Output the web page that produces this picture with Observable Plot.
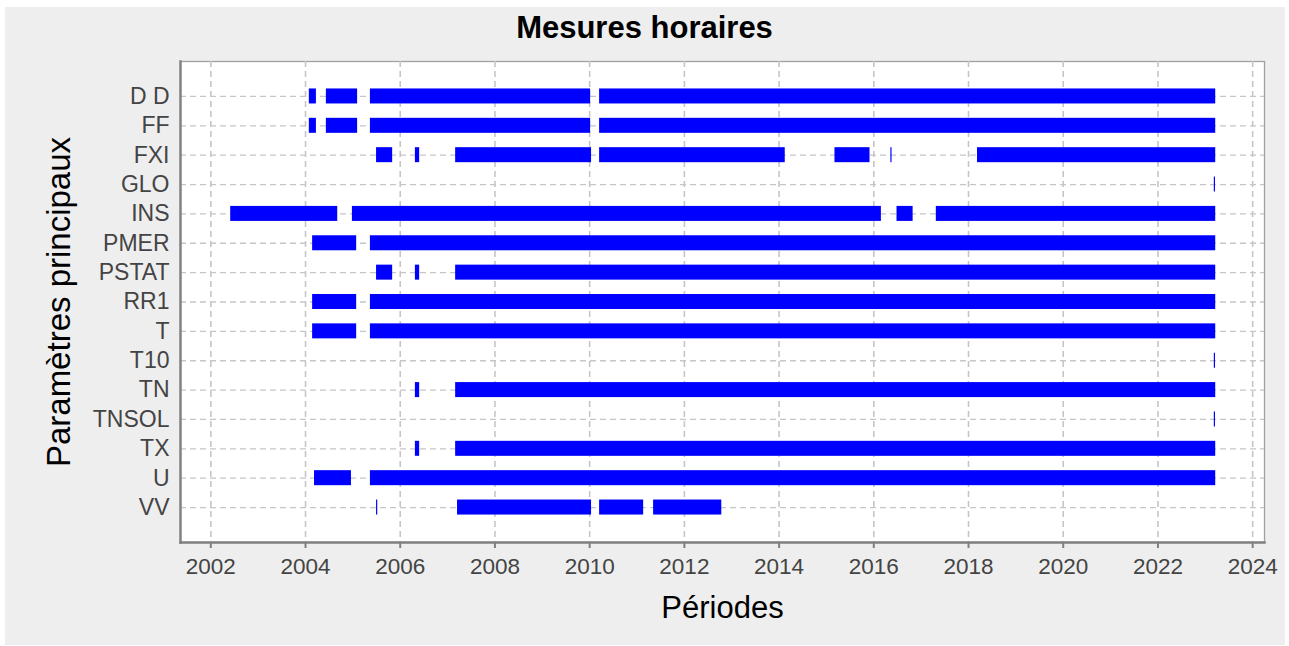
<!DOCTYPE html>
<html><head><meta charset="utf-8">
<script src="https://cdn.jsdelivr.net/npm/d3@7"></script>
<script src="https://cdn.jsdelivr.net/npm/@observablehq/plot@0.6"></script>
<style>
body{margin:0;background:#fff;}
#wrap{position:relative;width:1289px;height:646px;overflow:hidden;font-family:"Liberation Sans",Arial,sans-serif;}
#bg{position:absolute;left:5px;top:7px;width:1280px;height:638px;background:#eeeeee;}
#title{position:absolute;left:0;top:8px;width:1289px;text-align:center;font-weight:bold;font-size:31px;line-height:40px;color:#000;}
#chart{position:absolute;left:0;top:0;}
</style></head><body>
<div id="wrap"><div id="bg"></div><div id="chart"></div><div id="title">Mesures horaires</div></div>
<script>
const params = ["D D","FF","FXI","GLO","INS","PMER","PSTAT","RR1","T","T10","TN","TNSOL","TX","U","VV"];
const xTicks = [2002,2004,2006,2008,2010,2012,2014,2016,2018,2020,2022,2024];

const segDD    = [[2004.08,2004.23],[2004.44,2005.10],[2005.37,2010.02],[2010.21,2023.22]];
const segFF    = [[2004.08,2004.23],[2004.44,2005.10],[2005.37,2010.02],[2010.21,2023.22]];
const segFXI   = [[2005.50,2005.84],[2006.32,2006.41],[2007.17,2010.04],[2010.21,2014.13],[2015.18,2015.92],[2016.36,2016.385],[2018.19,2023.22]];
const segGLO   = [[2023.19,2023.215]];
const segINS   = [[2002.42,2004.68],[2004.99,2016.16],[2016.49,2016.83],[2017.32,2023.22]];
const segPMER  = [[2004.15,2005.08],[2005.37,2023.22]];
const segPSTAT = [[2005.50,2005.84],[2006.32,2006.41],[2007.17,2023.22]];
const segRR1   = [[2004.15,2005.08],[2005.37,2023.22]];
const segT     = [[2004.15,2005.08],[2005.37,2023.22]];
const segT10   = [[2023.19,2023.215]];
const segTN    = [[2006.32,2006.41],[2007.17,2023.22]];
const segTNSOL = [[2023.19,2023.215]];
const segTX    = [[2006.32,2006.41],[2007.17,2023.22]];
const segU     = [[2004.19,2004.97],[2005.37,2023.22]];
const segVV    = [[2005.50,2005.525],[2007.21,2010.04],[2010.21,2011.14],[2011.35,2012.79]];

const segments = [segDD,segFF,segFXI,segGLO,segINS,segPMER,segPSTAT,segRR1,segT,segT10,segTN,segTNSOL,segTX,segU,segVV];
const rows = [];
params.forEach((p, i) => segments[i].forEach(([s, e]) => rows.push({param: p, start: s, end: e})));

const font = "Liberation Sans, Arial, sans-serif";
const chart = Plot.plot({
  width: 1289, height: 646,
  marginLeft: 180, marginRight: 25, marginTop: 61, marginBottom: 104,
  style: {background: "transparent", fontFamily: font, overflow: "visible"},
  x: {domain: [2001.36, 2024.25]},
  y: {domain: params, paddingInner: 0.489, paddingOuter: 0.935, round: false},
  marks: [
    Plot.frame({fill: "white", stroke: "#a0a0a0", strokeWidth: 1.3}),
    Plot.gridX(xTicks, {stroke: "#c6c6c6", strokeOpacity: 1, strokeWidth: 1.6, strokeDasharray: "6,4"}),
    Plot.gridY(params, {stroke: "#c6c6c6", strokeOpacity: 1, strokeWidth: 1.3, strokeDasharray: "6,4"}),
    Plot.barX(rows, {x1: "start", x2: "end", y: "param", fill: "#0000ff"}),
    Plot.frame({anchor: "left", stroke: "#808080", strokeWidth: 2.4}),
    Plot.frame({anchor: "bottom", stroke: "#808080", strokeWidth: 2.4}),
    Plot.axisX(xTicks, {tickSize: 6, tickPadding: 10, stroke: "#808080", strokeWidth: 2, fill: "#444", fontSize: 22.5, tickFormat: d => String(d), label: null}),
    Plot.axisY({tickSize: 0, tickPadding: 11, fill: "#444", fontSize: 23, label: null}),
    Plot.text(["Périodes"], {frameAnchor: "bottom", dy: 75, fontSize: 31, fill: "#000"}),
    Plot.text(["Paramètres principaux"], {frameAnchor: "left", textAnchor: "middle", dx: -121, rotate: -90, fontSize: 33, fill: "#000"})
  ]
});
document.getElementById("chart").appendChild(chart);
</script>
</body></html>
